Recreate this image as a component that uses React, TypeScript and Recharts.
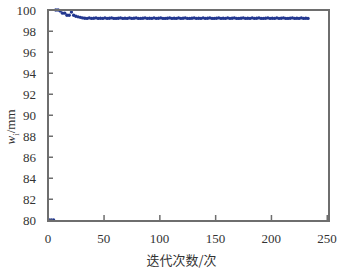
import { LineChart, Line, XAxis, YAxis } from "recharts";

// width per iteration (every 2nd iteration, starting at 1)
const widthValues = [
  80, 80, 80, 100, 100, 99.9, 99.7, 99.7, 99.5, 99.5, 99.8, 99.5, 99.4, 99.35, 99.3, 99.25,
  99.22, 99.2, 99.25, 99.2, 99.22, 99.25, 99.2, 99.22, 99.2, 99.25, 99.2, 99.22, 99.25, 99.2,
  99.2, 99.22, 99.25, 99.2, 99.22, 99.2, 99.25, 99.2, 99.22, 99.25, 99.2, 99.2, 99.22, 99.25,
  99.2, 99.22, 99.2, 99.25, 99.2, 99.22, 99.25, 99.2, 99.2, 99.22, 99.25, 99.2, 99.22, 99.2,
  99.25, 99.2, 99.22, 99.25, 99.2, 99.2, 99.22, 99.25, 99.2, 99.22, 99.2, 99.25, 99.2, 99.22,
  99.25, 99.2, 99.2, 99.22, 99.25, 99.2, 99.22, 99.2, 99.25, 99.2, 99.22, 99.25, 99.2, 99.2,
  99.22, 99.25, 99.2, 99.22, 99.2, 99.25, 99.2, 99.22, 99.25, 99.2, 99.2, 99.22, 99.25, 99.2,
  99.22, 99.2, 99.25, 99.2, 99.22, 99.25, 99.2, 99.2, 99.22, 99.25, 99.2, 99.22, 99.2, 99.25,
  99.2, 99.22, 99.2,
];
const points = widthValues.map((w, i) => ({ iter: i * 2 + 1, w }));

const xTicks = [0, 50, 100, 150, 200, 250];
const yTicks = [80, 82, 84, 86, 88, 90, 92, 94, 96, 98, 100];

const serif = "'Liberation Serif', 'DejaVu Serif', serif";
const axisColor = "#6e6e6e";
const textColor = "#333";

const Dot = (props: any) => (
  <circle key={props.index} cx={props.cx} cy={props.cy} r={1.7} fill="#22378f" />
);

// tick marks drawn inside the frame, as small filled rects
const BottomTick = ({ x, y, payload }: any) => (
  <g>
    <rect x={x - 0.5} y={y - 5} width={1.5} height={5} fill={axisColor} />
    <text x={x} y={y + 23} textAnchor="middle" fontFamily={serif} fontSize={13} fill={textColor}>
      {payload.value}
    </text>
  </g>
);
const TopTick = ({ x, y }: any) => (
  <rect x={x - 0.5} y={y} width={1.5} height={5} fill={axisColor} />
);
const LeftTick = ({ x, y, payload }: any) => (
  <g>
    <rect x={x} y={y - 0.5} width={5} height={1.5} fill={axisColor} />
    <text x={x - 12} y={y + 4.5} textAnchor="end" fontFamily={serif} fontSize={13} fill={textColor}>
      {payload.value}
    </text>
  </g>
);
const RightTick = ({ x, y }: any) => (
  <rect x={x - 5} y={y - 0.5} width={5} height={1.5} fill={axisColor} />
);

export default function App() {
  return (
    <div style={{ position: "absolute", left: 0, top: 0, width: 344, height: 271, background: "#fff" }}>
      <LineChart width={344} height={271} data={points} margin={{ top: 10, right: 0, bottom: 0, left: 0 }}>
        <XAxis
          dataKey="iter"
          type="number"
          domain={[0, 250]}
          ticks={xTicks}
          interval={0}
          height={51}
          axisLine={false}
          tickLine={false}
          tickSize={0}
          tickMargin={0}
          tick={BottomTick}
          label={{ value: "迭代次数/次", position: "insideBottom", offset: 6, dx: -6, style: { fontFamily: "'Noto Sans CJK SC', serif", fontSize: 13, fill: textColor } }}
        />
        <XAxis
          xAxisId="top"
          orientation="top"
          type="number"
          domain={[0, 250]}
          ticks={xTicks}
          interval={0}
          height={0}
          axisLine={false}
          tickLine={false}
          tickSize={0}
          tickMargin={0}
          tick={TopTick}
        />
        <YAxis
          dataKey="w"
          type="number"
          domain={[80, 100]}
          ticks={yTicks}
          interval={0}
          width={48}
          axisLine={false}
          tickLine={false}
          tickSize={0}
          tickMargin={0}
          tick={LeftTick}
        />
        <YAxis
          yAxisId="right"
          orientation="right"
          type="number"
          domain={[80, 100]}
          ticks={yTicks}
          interval={0}
          width={17}
          axisLine={false}
          tickLine={false}
          tickSize={0}
          tickMargin={0}
          tick={RightTick}
        />
        <Line dataKey="w" stroke="none" dot={Dot} activeDot={false} isAnimationActive={false} />
      </LineChart>
      <div
        style={{
          position: "absolute",
          left: 47,
          top: 9,
          width: 283,
          height: 213,
          boxSizing: "border-box",
          border: `2px solid ${axisColor}`,
          pointerEvents: "none",
        }}
      />
      <div
        style={{
          position: "absolute",
          left: 12,
          top: 127,
          transform: "translate(-50%, -50%) rotate(-90deg)",
          fontFamily: serif,
          fontSize: 13,
          color: textColor,
          whiteSpace: "nowrap",
        }}
      >
        <i>w</i>
        <sub style={{ fontSize: 9 }}>i</sub>/mm
      </div>
    </div>
  );
}
